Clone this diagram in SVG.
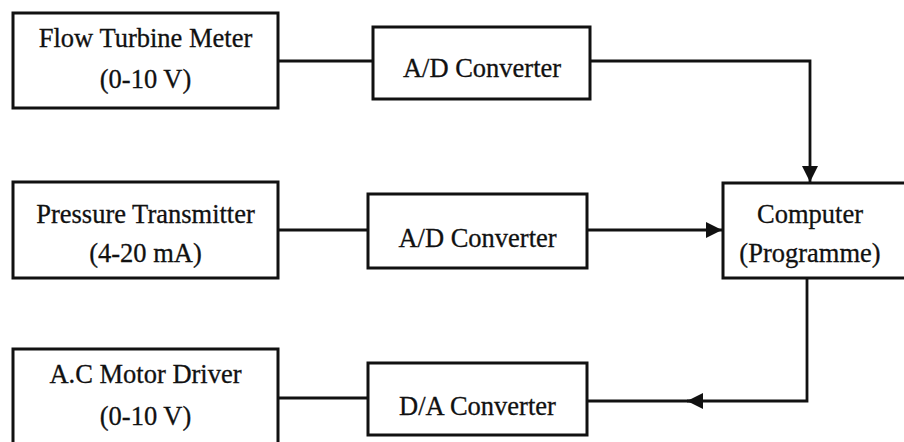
<svg xmlns="http://www.w3.org/2000/svg" width="904" height="442" viewBox="0 0 904 442">
<defs>
<style>
.box{fill:#fff;stroke:#111;stroke-width:3}
.t{font-family:"Liberation Serif","Times New Roman",serif;font-size:26.5px;fill:#111;stroke:#111;stroke-width:0.3;text-anchor:middle}
.c{fill:none;stroke:#111;stroke-width:2.8}
</style>
<marker id="ah" viewBox="0 0 10 10" refX="10" refY="5" markerWidth="16" markerHeight="16" markerUnits="userSpaceOnUse" orient="auto">
<path d="M0,0 L10,5 L0,10 z" fill="#111"/>
</marker>
</defs>
<rect width="904" height="442" fill="#fff"/>
<g id="connectors">
<line class="c" x1="278" y1="61" x2="373" y2="61"/>
<polyline class="c" points="590,61 810,61 810,182" marker-end="url(#ah)"/>
<line class="c" x1="278" y1="230" x2="368" y2="230"/>
<line class="c" x1="587" y1="230" x2="722" y2="230" marker-end="url(#ah)"/>
<polyline class="c" points="807,278 807,401 587,401"/>
<line class="c" x1="703" y1="401" x2="687" y2="401" marker-end="url(#ah)"/>
<line class="c" x1="278" y1="398" x2="368" y2="398"/>
</g>
<g id="flow-meter">
<rect class="box" x="13" y="13" width="265" height="95"/>
<text class="t" x="145.5" y="47">Flow Turbine Meter</text>
<text class="t" x="145.5" y="88">(0-10 V)</text>
</g>
<g id="ad1">
<rect class="box" x="373" y="27" width="217" height="72"/>
<text class="t" x="482" y="77">A/D Converter</text>
</g>
<g id="pressure">
<rect class="box" x="13" y="182" width="265" height="96"/>
<text class="t" x="145.5" y="223">Pressure Transmitter</text>
<text class="t" x="145.5" y="262">(4-20 mA)</text>
</g>
<g id="ad2">
<rect class="box" x="368" y="194" width="219" height="74"/>
<text class="t" x="477.5" y="247">A/D Converter</text>
</g>
<g id="computer">
<rect class="box" x="723" y="183" width="186" height="95"/>
<text class="t" x="810" y="223">Computer</text>
<text class="t" x="810" y="262">(Programme)</text>
</g>
<g id="motor">
<rect class="box" x="13" y="349" width="265" height="100"/>
<text class="t" x="145.5" y="383">A.C Motor Driver</text>
<text class="t" x="145.5" y="425">(0-10 V)</text>
</g>
<g id="da">
<rect class="box" x="368" y="363" width="219" height="72"/>
<text class="t" x="477.5" y="415">D/A Converter</text>
</g>
</svg>
